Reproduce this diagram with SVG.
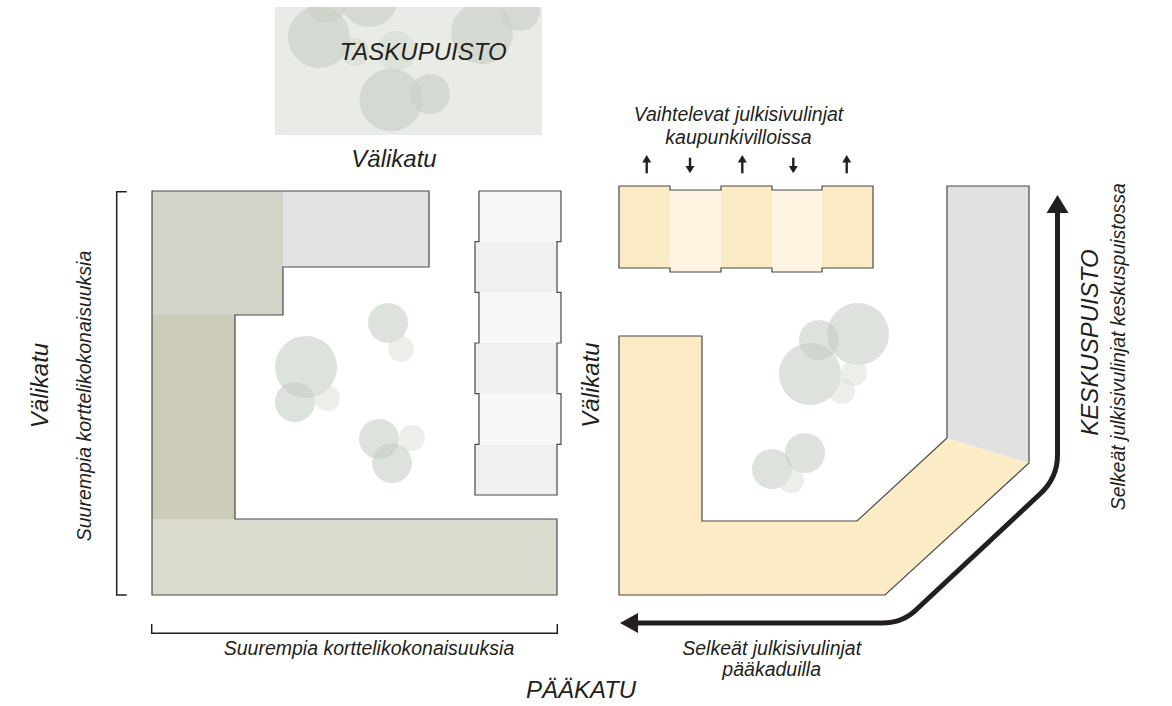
<svg xmlns="http://www.w3.org/2000/svg" width="1172" height="706" viewBox="0 0 1172 706">
<defs>
<style>
.t{font-family:"Liberation Sans",Arial,sans-serif;font-style:italic;fill:#231f20}
.big{font-size:24px}
.sm{font-size:19.5px}
.ol{fill:none;stroke:#4a4a4a;stroke-width:1.2;stroke-linejoin:miter}
.tree{fill:#c7cec4;fill-opacity:0.6}
.tree2{fill:#dde2da;fill-opacity:0.6}
.ptree{fill:#c9d1c6;fill-opacity:0.65}
.ar{stroke:#231f20;stroke-width:2.4;fill:none}
.ah{fill:#231f20}
</style>
</defs>
<rect width="1172" height="706" fill="#ffffff"/>

<g id="taskupuisto">
<clipPath id="pc"><rect x="275" y="7" width="267" height="128"/></clipPath>
<rect x="275" y="7" width="267" height="128" fill="#e9ebe6"/>
<g clip-path="url(#pc)">
<circle class="ptree" cx="327" cy="3" r="20"/>
<circle class="ptree" cx="369" cy="-2" r="29"/>
<circle class="ptree" cx="319" cy="37" r="31"/>
<circle class="ptree" cx="355" cy="52" r="14" style="fill-opacity:0.35"/>
<circle class="ptree" cx="396" cy="51" r="20" style="fill-opacity:0.35"/>
<circle class="ptree" cx="391" cy="100" r="31.5"/>
<circle class="ptree" cx="430" cy="94" r="20"/>
<circle class="ptree" cx="482" cy="33" r="31"/>
<circle class="ptree" cx="520" cy="11" r="20"/>
</g>
<text class="t big" x="423" y="60" text-anchor="middle">TASKUPUISTO</text>
</g>

<g id="left-block">
<rect x="152" y="191" width="131" height="124" fill="#d3d3ca"/>
<rect x="283" y="191" width="146" height="76" fill="#e3e3e3"/>
<rect x="152" y="315" width="83" height="204" fill="#cbcbb8"/>
<rect x="152" y="519" width="405" height="76" fill="#dadbce"/>
<path class="ol" d="M152,191 H429 V267 H283 V315 H235 V519 H557 V595 H152 Z"/>
<circle class="tree" cx="306" cy="367" r="31"/>
<circle class="tree" cx="295" cy="402" r="20"/>
<circle class="tree2" cx="327" cy="398" r="13"/>
<circle class="tree" cx="388" cy="323" r="20"/>
<circle class="tree2" cx="401" cy="349" r="13"/>
<circle class="tree" cx="379" cy="439" r="20"/>
<circle class="tree2" cx="412" cy="438" r="13"/>
<circle class="tree" cx="392" cy="463" r="20"/>
</g>

<g id="middle-row">
<rect x="479" y="191" width="82" height="50.7" fill="#f7f7f7"/>
<rect x="475" y="241.7" width="82" height="50.6" fill="#f0f0f0"/>
<rect x="479" y="292.3" width="82" height="50.7" fill="#f7f7f7"/>
<rect x="475" y="343" width="82" height="50.7" fill="#f0f0f0"/>
<rect x="479" y="393.7" width="82" height="50.6" fill="#f7f7f7"/>
<rect x="475" y="444.3" width="82" height="50.7" fill="#f0f0f0"/>
<path class="ol" d="M479,191 H561 V241.7 H557 V292.3 H561 V343 H557 V393.7 H561 V444.3 H557 V495 H475 V444.3 H479 V393.7 H475 V343 H479 V292.3 H475 V241.7 H479 Z"/>
</g>

<g id="villas">
<rect x="619" y="186" width="51" height="82" fill="#fbebc5"/>
<rect x="670" y="190" width="51" height="82" fill="#fdf5e2"/>
<rect x="721" y="186" width="51" height="82" fill="#fbebc5"/>
<rect x="772" y="190" width="50" height="82" fill="#fdf5e2"/>
<rect x="822" y="186" width="51" height="82" fill="#fbebc5"/>
<path class="ol" d="M619,186 H670 V190 H721 V186 H772 V190 H822 V186 H873 V268 H822 V272 H772 V268 H721 V272 H670 V268 H619 Z"/>
</g>

<g id="villa-arrows">
<line class="ar" x1="646.7" y1="161" x2="646.7" y2="173.3"/>
<polygon class="ah" points="646.7,155 651.2,162.5 642.2,162.5"/>
<line class="ar" x1="690" y1="157.7" x2="690" y2="167"/>
<polygon class="ah" points="690,173.3 694.5,166 685.5,166"/>
<line class="ar" x1="742.3" y1="161" x2="742.3" y2="173.3"/>
<polygon class="ah" points="742.3,155 746.8,162.5 737.8,162.5"/>
<line class="ar" x1="793.3" y1="157.7" x2="793.3" y2="167"/>
<polygon class="ah" points="793.3,173.3 797.8,166 788.8,166"/>
<line class="ar" x1="846.7" y1="161" x2="846.7" y2="173.3"/>
<polygon class="ah" points="846.7,155 851.2,162.5 842.2,162.5"/>
</g>

<g id="right-block">
<polygon points="619,336 702,336 702,595 619,595" fill="#fbeac4"/>
<polygon points="702,521 857,521 947,438 1029,463 885,595 702,595" fill="#fcecc6"/>
<polygon points="947,186 1029,186 1029,463 947,438" fill="#e1e1e1"/>
<path class="ol" d="M619,336 H702 V521 H857 L947,438 V186 H1029 V463 L885,595 H619 Z"/>
<circle class="tree" cx="819" cy="340" r="20"/>
<circle class="tree" cx="858" cy="334" r="31"/>
<circle class="tree" cx="810" cy="374" r="31"/>
<circle class="tree2" cx="854" cy="373" r="13"/>
<circle class="tree2" cx="842" cy="391" r="13"/>
<circle class="tree" cx="805" cy="453" r="20"/>
<circle class="tree" cx="772" cy="469" r="20"/>
<circle class="tree2" cx="791" cy="480" r="13"/>
</g>

<g id="connectors">
<path d="M1057.5,211 V455 Q1057.5,478 1040,494 L917,609 Q903,623 882,623 H636" fill="none" stroke="#231f20" stroke-width="5" stroke-linejoin="round"/>
<polygon class="ah" points="1057.5,195 1068.5,213 1046.5,213"/>
<polygon class="ah" points="620,623 638,613 638,633"/>
<path d="M126.7,191.7 H116.7 V595 H126.7" fill="none" stroke="#231f20" stroke-width="1.5"/>
<path d="M151.7,624 V633.3 H557.3 V624" fill="none" stroke="#231f20" stroke-width="1.5"/>
</g>

<g id="labels">
<text class="t big" x="394" y="166.5" text-anchor="middle">Välikatu</text>
<text class="t sm" x="738.5" y="121" text-anchor="middle">Vaihtelevat julkisivulinjat</text>
<text class="t sm" x="738.5" y="143.5" text-anchor="middle">kaupunkivilloissa</text>
<text class="t big" transform="translate(48,385.5) rotate(-90)" text-anchor="middle">Välikatu</text>
<text class="t sm" transform="translate(91,396) rotate(-90)" text-anchor="middle">Suurempia korttelikokonaisuuksia</text>
<text class="t big" transform="translate(599,385) rotate(-90)" text-anchor="middle">Välikatu</text>
<text class="t big" transform="translate(1097.5,342.5) rotate(-90)" text-anchor="middle">KESKUSPUISTO</text>
<text class="t sm" transform="translate(1124.5,346.7) rotate(-90)" text-anchor="middle">Selkeät julkisivulinjat keskuspuistossa</text>
<text class="t sm" x="369" y="655" text-anchor="middle">Suurempia korttelikokonaisuuksia</text>
<text class="t big" x="581" y="698" text-anchor="middle">PÄÄKATU</text>
<text class="t sm" x="771.7" y="655" text-anchor="middle">Selkeät julkisivulinjat</text>
<text class="t sm" x="771.7" y="676" text-anchor="middle">pääkaduilla</text>
</g>
</svg>
